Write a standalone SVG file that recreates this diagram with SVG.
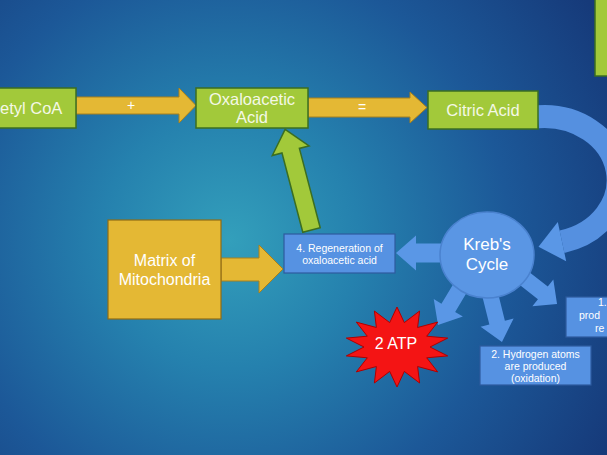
<svg xmlns="http://www.w3.org/2000/svg" width="607" height="455" viewBox="0 0 607 455">
<defs>
<radialGradient id="bg" cx="230" cy="240" r="430" gradientUnits="userSpaceOnUse">
<stop offset="0" stop-color="#339fbb"/>
<stop offset="0.3" stop-color="#2581ae"/>
<stop offset="0.65" stop-color="#1c5898"/>
<stop offset="1" stop-color="#163a7a"/>
</radialGradient>
<style>
.g{fill:#a2c93a;stroke:#3b6e22;stroke-width:1.5}
.y{fill:#e4b834;stroke:#a8801c;stroke-width:1}
.b{fill:#5692e2;stroke:#2d5b9e;stroke-width:1.2}
.ba{fill:#5a97e6;stroke:none}
.t{font-family:"Liberation Sans",Arial,sans-serif;fill:#ffffff;text-anchor:middle}
.tg{font-family:"Liberation Sans",Arial,sans-serif;fill:#f4f8e6;text-anchor:middle;font-size:16.5px}
.s{font-family:"Liberation Sans",Arial,sans-serif;fill:#ffffff;font-size:10.5px}
</style>
</defs>
<rect x="0" y="0" width="607" height="455" fill="url(#bg)"/>

<g id="connectors">
<polygon class="y" points="76,97 179,97 179,88 196,105.5 179,123 179,114 76,114"/>
<text class="t" x="131" y="110" font-size="14">+</text>
<polygon class="y" points="308,98 410,98 410,92 427,107.5 410,123 410,117 308,117"/>
<text class="t" x="362" y="112" font-size="14">=</text>
<polygon class="y" points="221,258 259,258 259,245 283,269 259,293 259,281 221,281"/>
<polygon class="g" transform="translate(311.5,230) rotate(-14.7)" points="-9,0 -9,-82 -19,-82 0,-104 19,-82 9,-82 9,0"/>
<path d="M538 116.8 A74 63.5 0 0 1 562 241.7" fill="none" stroke="#5590e0" stroke-width="23"/>
<polygon class="ba" points="557.8,222.1 538.5,246.7 566.2,261.3"/>
<polygon class="ba" points="445,243.5 416,243.5 416,235.5 396,253 416,270.5 416,262.5 445,262.5"/>
<polygon class="ba" transform="translate(462,285) rotate(121)" points="0,-8 26.6,-8 26.6,-17 46.6,0 26.6,17 26.6,8 0,8"/>
<polygon class="ba" transform="translate(489,290) rotate(76)" points="0,-8 33.6,-8 33.6,-17 53.6,0 33.6,17 33.6,8 0,8"/>
<polygon class="ba" transform="translate(520,275) rotate(38)" points="0,-8 29,-8 29,-17 47,0 29,17 29,8 0,8"/>
</g>

<g id="acetyl-coa">
<rect class="g" x="-5" y="88" width="81" height="40"/>
<text class="tg" x="0" y="114" style="text-anchor:start">etyl CoA</text>
</g>

<g id="oxaloacetic-acid">
<rect class="g" x="196" y="88" width="112" height="40"/>
<text class="tg" x="252" y="105">Oxaloacetic</text>
<text class="tg" x="252" y="123">Acid</text>
</g>

<g id="citric-acid">
<rect class="g" x="428" y="91" width="110" height="38"/>
<text class="tg" x="483" y="116">Citric Acid</text>
</g>

<g id="top-right-box">
<rect class="g" x="595" y="-5" width="20" height="81"/>
</g>

<g id="matrix">
<rect x="108" y="220" width="113" height="99" fill="#e4b834" stroke="#8f6c14" stroke-width="1.2"/>
<text class="t" x="164.5" y="266" font-size="16">Matrix of</text>
<text class="t" x="164.5" y="285" font-size="16">Mitochondria</text>
</g>

<g id="regeneration">
<rect class="b" x="284" y="234" width="111" height="39"/>
<text class="s" x="339.5" y="252" text-anchor="middle">4. Regeneration of</text>
<text class="s" x="339.5" y="264" text-anchor="middle">oxaloacetic acid</text>
</g>

<g id="krebs-cycle">
<ellipse cx="487" cy="255" rx="47" ry="43" fill="#5a96e4" stroke="#4a82cf" stroke-width="1.5"/>
<text class="t" x="487" y="250" font-size="17">Kreb's</text>
<text class="t" x="487" y="270" font-size="17">Cycle</text>
</g>

<g id="atp">
<polygon fill="#f41414" stroke="#b00000" stroke-width="1" points="397,307 404.3,322.6 419.6,311 417.6,327.5 437.7,322.1 426.7,336.2 447.7,338.1 430,347 447.7,355.9 426.7,357.8 437.7,371.9 417.6,366.5 419.6,383 404.3,371.4 397,387 389.7,371.4 374.4,383 376.4,366.5 356.3,371.9 367.3,357.8 346.3,355.9 364,347 346.3,338.1 367.3,336.2 356.3,322.1 376.4,327.5 374.4,311 389.7,322.6"/>
<text class="t" x="396" y="349" font-size="16">2 ATP</text>
</g>

<g id="hydrogen">
<rect class="b" x="480" y="346" width="111" height="39"/>
<text class="s" x="535.5" y="358" text-anchor="middle">2. Hydrogen atoms</text>
<text class="s" x="535.5" y="370" text-anchor="middle">are produced</text>
<text class="s" x="535.5" y="382" text-anchor="middle">(oxidation)</text>
</g>

<g id="box-1">
<rect class="b" x="566" y="297" width="50" height="40"/>
<text class="s" x="598" y="306">1.</text>
<text class="s" x="579" y="319">prod</text>
<text class="s" x="595" y="332">re</text>
</g>
</svg>
